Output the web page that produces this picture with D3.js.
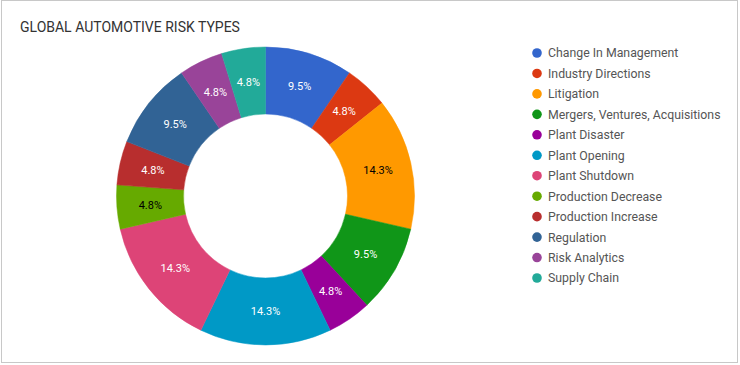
<!DOCTYPE html>
<html>
<head>
<meta charset="utf-8">
<script src="https://cdn.jsdelivr.net/npm/d3@7"></script>
<style>
  html, body { margin: 0; padding: 0; background: #fff; }
  svg { display: block; font-family: Roboto, Arial, sans-serif; }
</style>
</head>
<body>
<svg id="chart" width="740" height="365"></svg>
<script>
const categories = ["Change In Management", "Industry Directions", "Litigation",
  "Mergers, Ventures, Acquisitions", "Plant Disaster", "Plant Opening",
  "Plant Shutdown", "Production Decrease", "Production Increase",
  "Regulation", "Risk Analytics", "Supply Chain"];
const values = [2, 1, 3, 2, 1, 3, 3, 1, 1, 2, 1, 1];
const colors = ["#3366cc", "#dc3912", "#ff9900", "#109618", "#990099", "#0099c6",
  "#dd4477", "#66aa00", "#b82e2e", "#316395", "#994499", "#22aa99"];
const darkLabel = ["Litigation", "Production Decrease"];
const title = "GLOBAL AUTOMOTIVE RISK TYPES";

const svg = d3.select("#chart");

svg.append("rect")
  .attr("x", 1.5).attr("y", 0.5).attr("width", 736).attr("height", 362)
  .attr("fill", "#fff").attr("stroke", "#c8c8c8").attr("stroke-width", 1);

svg.append("text")
  .attr("x", 20).attr("y", 32)
  .attr("font-size", 14).attr("fill", "#333")
  .text(title);

const cx = 265.5, cy = 196, rOuter = 149, rInner = 82;
const total = d3.sum(values);
const data = categories.map((c, i) => ({ name: c, value: values[i], color: colors[i] }));

const pie = d3.pie().value(d => d.value).sort(null);
const arc = d3.arc().innerRadius(rInner).outerRadius(rOuter);
const labelArc = d3.arc().innerRadius((rInner + rOuter) / 2).outerRadius((rInner + rOuter) / 2);

const g = svg.append("g").attr("transform", `translate(${cx},${cy})`);
const arcs = pie(data);

g.selectAll("path").data(arcs).enter().append("path")
  .attr("d", arc)
  .attr("fill", d => d.data.color)
  .attr("stroke", d => d.data.color).attr("stroke-width", 0.5);

g.selectAll("text.lbl").data(arcs).enter().append("text")
  .attr("class", "lbl")
  .attr("transform", d => `translate(${labelArc.centroid(d)})`)
  .attr("text-anchor", "middle")
  .attr("dy", "0.36em")
  .attr("font-size", 11)
  .attr("fill", d => darkLabel.includes(d.data.name) ? "#000" : "#fff")
  .text(d => (d.data.value / total * 100).toFixed(1) + "%");

const legendY = d3.scalePoint().domain(categories).range([53, 278]);
const lg = svg.append("g");
const items = lg.selectAll("g").data(data).enter().append("g")
  .attr("transform", d => `translate(537,${legendY(d.name)})`);
items.append("circle").attr("r", 4.8).attr("fill", d => d.color);
items.append("text")
  .attr("x", 11).attr("dy", "0.36em")
  .attr("font-size", 12.3).attr("fill", "#555")
  .text(d => d.name);
</script>
</body>
</html>
